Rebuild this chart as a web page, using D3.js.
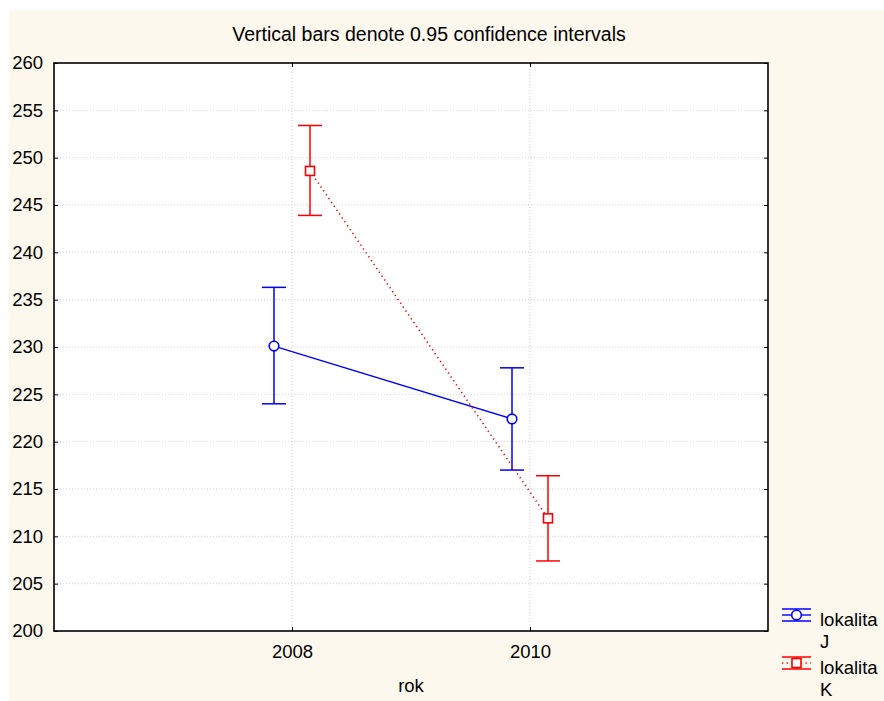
<!DOCTYPE html>
<html>
<head>
<meta charset="utf-8">
<script src="https://cdn.jsdelivr.net/npm/d3@7"></script>
<style>
  html, body { margin: 0; padding: 0; background: #ffffff; }
  svg { display: block; font-family: Arial, "Liberation Sans", sans-serif; }
</style>
</head>
<body>
<svg id="chart" width="884" height="701"></svg>
<script>
// Years on the x axis
const years = [2008, 2010];
// Group means and 0.95 confidence limits per locality
const seriesNames = ["lokalita J", "lokalita K"];
const meanJ = [230.1, 222.4];
const lowJ = [224.0, 217.0];
const highJ = [236.3, 227.8];
const meanK = [248.6, 211.9];
const lowK = [243.9, 207.4];
const highK = [253.4, 216.4];
const yTicks = [200, 205, 210, 215, 220, 225, 230, 235, 240, 245, 250, 255, 260];

const series = [
  { name: seriesNames[0], mean: meanJ, low: lowJ, high: highJ, color: "#0000ff", shape: "circle", dash: null, offset: -18 },
  { name: seriesNames[1], mean: meanK, low: lowK, high: highK, color: "#ff0000", shape: "square", dash: "1.3,3.4", offset: 18 }
];

const svg = d3.select("#chart");
const W = 884, H = 701;
const plot = { left: 54, top: 63, right: 768, bottom: 631 };

// Panel background
svg.append("rect").attr("x", 9).attr("y", 10).attr("width", W - 9).attr("height", H - 10)
  .attr("fill", "#fdf8ee");
svg.append("rect").attr("x", plot.left).attr("y", plot.top)
  .attr("width", plot.right - plot.left).attr("height", plot.bottom - plot.top)
  .attr("fill", "#ffffff");

const x = d3.scalePoint().domain(years).range([plot.left, plot.right]).padding(1);
const y = d3.scaleLinear().domain([200, 260]).range([plot.bottom, plot.top]);

// Dotted grid
const grid = svg.append("g");
grid.selectAll("line.h").data(yTicks.slice(1, -1)).join("line")
  .attr("x1", plot.left).attr("x2", plot.right)
  .attr("y1", d => y(d)).attr("y2", d => y(d))
  .attr("stroke", "#c8c8c8").attr("stroke-width", 0.8).attr("stroke-dasharray", "1,2");
grid.selectAll("line.v").data(years).join("line")
  .attr("x1", d => x(d)).attr("x2", d => x(d))
  .attr("y1", plot.top).attr("y2", plot.bottom)
  .attr("stroke", "#c8c8c8").attr("stroke-width", 0.8).attr("stroke-dasharray", "1,2");

// Axes with inward ticks
const axisLeft = svg.append("g").attr("transform", `translate(${plot.left},0)`)
  .call(d3.axisLeft(y).tickValues(yTicks).tickSize(-4).tickPadding(11).tickFormat(d3.format("d")));
const axisRight = svg.append("g").attr("transform", `translate(${plot.right},0)`)
  .call(d3.axisRight(y).tickValues(yTicks).tickSize(-4).tickFormat(""));
const axisBottom = svg.append("g").attr("transform", `translate(0,${plot.bottom})`)
  .call(d3.axisBottom(x).tickSize(-4).tickPadding(14).tickFormat(d3.format("d")));
const axisTop = svg.append("g").attr("transform", `translate(0,${plot.top})`)
  .call(d3.axisTop(x).tickSize(-4).tickFormat(""));

[axisLeft, axisRight, axisBottom, axisTop].forEach(a => {
  a.select(".domain").remove();
  a.selectAll(".tick line").attr("stroke", "#000").attr("stroke-width", 1);
  a.selectAll("text").attr("fill", "#000").attr("font-size", 18.5)
    .attr("font-family", "Arial, 'Liberation Sans', sans-serif");
});
axisBottom.selectAll("text").attr("dy", "0.71em");

// Plot frame
svg.append("rect").attr("x", plot.left).attr("y", plot.top)
  .attr("width", plot.right - plot.left).attr("height", plot.bottom - plot.top)
  .attr("fill", "none").attr("stroke", "#000").attr("stroke-width", 1.6);

// Title and axis label
svg.append("text").attr("x", 429).attr("y", 41).attr("text-anchor", "middle")
  .attr("font-size", 19.5).attr("fill", "#000")
  .text("Vertical bars denote 0.95 confidence intervals");
svg.append("text").attr("x", 411).attr("y", 692).attr("text-anchor", "middle")
  .attr("font-size", 18.5).attr("fill", "#000").text("rok");

const capHalf = 12;

function drawMarker(g, shape, cx, cy, color) {
  if (shape === "circle") {
    g.append("circle").attr("cx", cx).attr("cy", cy).attr("r", 4.8)
      .attr("fill", "#fff").attr("stroke", color).attr("stroke-width", 1.6);
  } else {
    g.append("rect").attr("x", cx - 4.5).attr("y", cy - 4.5).attr("width", 9).attr("height", 9)
      .attr("fill", "#fff").attr("stroke", color).attr("stroke-width", 1.6);
  }
}

series.forEach(s => {
  const g = svg.append("g");
  const px = years.map(yr => x(yr) + s.offset);
  // Error bars
  years.forEach((yr, i) => {
    const cx = px[i];
    g.append("line").attr("x1", cx).attr("x2", cx).attr("y1", y(s.high[i])).attr("y2", y(s.low[i]))
      .attr("stroke", s.color).attr("stroke-width", 1.5);
    [s.high[i], s.low[i]].forEach(v => {
      g.append("line").attr("x1", cx - capHalf).attr("x2", cx + capHalf).attr("y1", y(v)).attr("y2", y(v))
        .attr("stroke", s.color).attr("stroke-width", 1.5);
    });
  });
  // Connecting line
  const line = d3.line().x((d, i) => px[i]).y(d => y(d));
  g.append("path").datum(s.mean).attr("d", line).attr("fill", "none")
    .attr("stroke", s.color).attr("stroke-width", s.dash ? 1.6 : 1.4)
    .attr("stroke-dasharray", s.dash);
  s.mean.forEach((m, i) => drawMarker(g, s.shape, px[i], y(m), s.color));
});

// Legend
const legend = svg.append("g");
series.forEach((s, i) => {
  const cy = 615 + i * 48;
  const lg = legend.append("g");
  lg.append("line").attr("x1", 782).attr("x2", 811).attr("y1", cy - 6).attr("y2", cy - 6)
    .attr("stroke", s.color).attr("stroke-width", 1.5);
  lg.append("line").attr("x1", 782).attr("x2", 811).attr("y1", cy + 6).attr("y2", cy + 6)
    .attr("stroke", s.color).attr("stroke-width", 1.5);
  lg.append("line").attr("x1", 796.5).attr("x2", 796.5).attr("y1", cy - 6).attr("y2", cy + 6)
    .attr("stroke", s.color).attr("stroke-width", 1.5);
  lg.append("line").attr("x1", 782).attr("x2", 811).attr("y1", cy).attr("y2", cy)
    .attr("stroke", s.color).attr("stroke-width", 1.4).attr("stroke-dasharray", s.dash);
  drawMarker(lg, s.shape, 796.5, cy, s.color);
  const parts = s.name.split(" ");
  const t = lg.append("text").attr("x", 820).attr("y", cy + 11).attr("font-size", 18.5).attr("fill", "#000");
  t.append("tspan").attr("x", 820).text(parts[0]);
  t.append("tspan").attr("x", 820).attr("dy", 22).text(parts[1]);
});
</script>
</body>
</html>
